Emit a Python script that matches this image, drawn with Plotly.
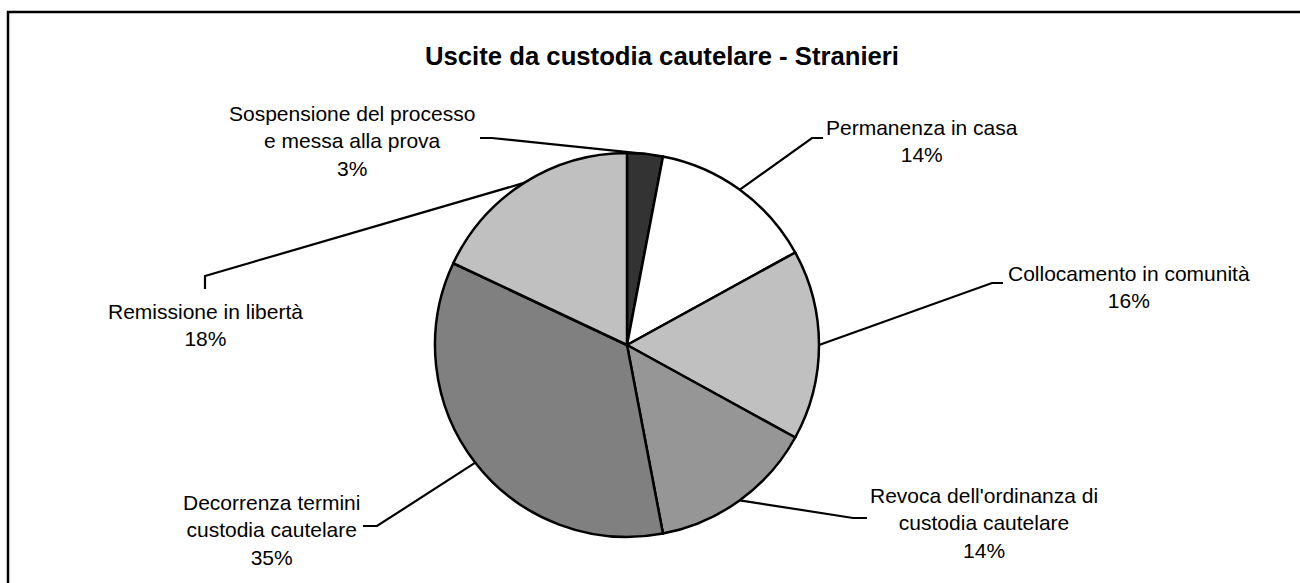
import math
import plotly.graph_objects as go

# data
categories = [
    "Sospensione del processo<br>e messa alla prova",
    "Permanenza in casa",
    "Collocamento in comunità",
    "Revoca dell'ordinanza di<br>custodia cautelare",
    "Decorrenza termini<br>custodia cautelare",
    "Remissione in libertà",
]
percentages = [3, 14, 16, 14, 35, 18]
slice_colors = ["#333333", "#FFFFFF", "#C0C0C0", "#969696", "#808080", "#C0C0C0"]

W, H = 1300, 583
# pie placement in pixels (centre, radius)
CX, CY, R = 627, 345, 192

# label placement in pixels: text centre, elbow point, end of leader line
label_pos = [
    dict(text=(352, 141), elbow=(492, 138), end=(480, 138)),
    dict(text=(922, 141), elbow=(812, 138), end=(823, 138)),
    dict(text=(1129, 287), elbow=(992, 283), end=(1003, 283)),
    dict(text=(984, 523), elbow=(853, 518), end=(867, 518)),
    dict(text=(271, 530), elbow=(377, 526), end=(363, 526)),
    dict(text=(205, 325), elbow=(205, 276), end=(205, 289)),
]


def px(x):
    return x / W


def py(y):
    return 1 - y / H


FONT = "Liberation Sans, Arial, sans-serif"

fig = go.Figure()

fig.add_trace(
    go.Pie(
        labels=categories,
        values=percentages,
        sort=False,
        direction="clockwise",
        rotation=0,
        textinfo="none",
        hoverinfo="skip",
        marker=dict(colors=slice_colors, line=dict(color="black", width=2.5)),
        domain=dict(x=[px(CX - R), px(CX + R)], y=[py(CY + R), py(CY - R)]),
        showlegend=False,
    )
)

total = sum(percentages)
cum = 0
shapes = []
annotations = []
for name, val, pos in zip(categories, percentages, label_pos):
    theta = 2 * math.pi * (cum + val / 2) / total
    cum += val
    ex = CX + R * math.sin(theta)
    ey = CY - R * math.cos(theta)
    bx, by = pos["elbow"]
    tx, ty = pos["end"]
    shapes.append(
        dict(
            type="path",
            xref="paper",
            yref="paper",
            path=f"M {px(ex)},{py(ey)} L {px(bx)},{py(by)} L {px(tx)},{py(ty)}",
            line=dict(color="black", width=2.2),
        )
    )
    lx, ly = pos["text"]
    annotations.append(
        dict(
            text=f"{name}<br>{val}%",
            x=px(lx),
            y=py(ly),
            xref="paper",
            yref="paper",
            xanchor="center",
            yanchor="middle",
            showarrow=False,
            align="center",
            font=dict(family=FONT, size=21, color="black"),
        )
    )

# chart title
annotations.append(
    dict(
        text="<b>Uscite da custodia cautelare - Stranieri</b>",
        x=px(662),
        y=py(56),
        xref="paper",
        yref="paper",
        xanchor="center",
        yanchor="middle",
        showarrow=False,
        font=dict(family=FONT, size=25.7, color="black"),
    )
)

# outer frame (runs off the right and bottom edges)
shapes.append(
    dict(
        type="rect",
        xref="paper",
        yref="paper",
        x0=px(8),
        y0=py(12),
        x1=px(1320),
        y1=py(620),
        line=dict(color="black", width=2.5),
        fillcolor="rgba(0,0,0,0)",
    )
)

fig.update_layout(
    width=W,
    height=H,
    margin=dict(l=0, r=0, t=0, b=0),
    paper_bgcolor="white",
    plot_bgcolor="white",
    shapes=shapes,
    annotations=annotations,
    font=dict(family=FONT),
)

fig.write_html(
    "out.html",
    config={"displayModeBar": False},
    post_script="document.body.style.margin='0';document.body.style.overflow='hidden';",
)
